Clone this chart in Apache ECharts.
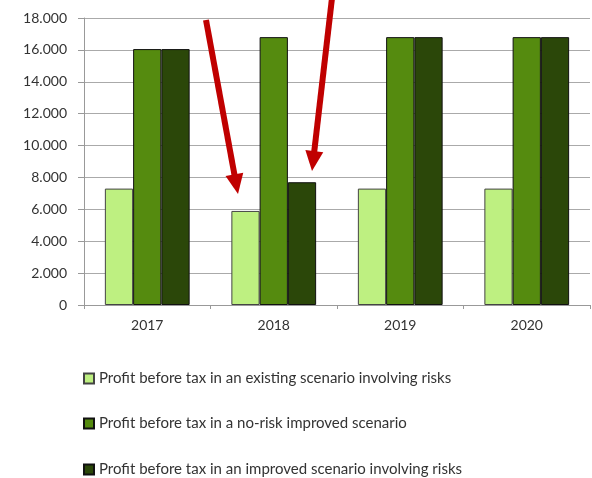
<!DOCTYPE html>
<html><head><meta charset="utf-8">
<script src="https://cdn.jsdelivr.net/npm/echarts@6/dist/echarts.min.js"></script>
<style>html,body{margin:0;padding:0;background:#fff}#c{width:592px;height:478px}</style>
</head><body><div id="c"></div>
<script>
var categories = ['2017', '2018', '2019', '2020'];
var existingRisk = [7300, 5900, 7300, 7300];
var noRiskImproved = [16050, 16800, 16800, 16800];
var improvedRisk = [16050, 7700, 16800, 16800];
var seriesNames = [
  'Profit before tax in an existing scenario involving risks',
  'Profit before tax in a no-risk improved scenario',
  'Profit before tax in an improved scenario involving risks'
];
var yMin = 0, yMax = 18000, yStep = 2000;

var colors = ['#BEF081', '#558B0F', '#2B4709'];
var chart = echarts.init(document.getElementById('c'));
var font = 'Lato, "Liberation Sans", sans-serif';
function fmt(v){ return v === 0 ? '0' : (v/1000) + '.000'; }
function bar(name, data, color, border){
  return {name: name, type: 'bar', data: data, barGap: '0%', barCategoryGap: '33%',
    itemStyle: {color: color, borderColor: border, borderWidth: 1}};
}
function arrow(x1, y1, x2, y2){
  var dx = x2 - x1, dy = y2 - y1, L = Math.sqrt(dx*dx + dy*dy);
  var ux = dx / L, uy = dy / L, hl = 20, hw = 9;
  var bx = x2 - ux*hl, by = y2 - uy*hl;
  return [
    {type: 'line', shape: {x1: x1, y1: y1, x2: bx + ux*2, y2: by + uy*2}, style: {stroke: '#C00000', lineWidth: 6}, z: 100},
    {type: 'polygon', shape: {points: [[x2, y2], [bx - uy*hw, by + ux*hw], [bx + uy*hw, by - ux*hw]]}, style: {fill: '#C00000'}, z: 100}
  ];
}
var legendTops = [365, 410, 456];
var legends = seriesNames.map(function(n, i){
  return {orient: 'vertical', left: 78, top: legendTops[i], itemWidth: 10, itemHeight: 10,
    icon: 'rect', itemGap: 0,
    textStyle: {color: '#333', fontSize: 15, fontFamily: font, lineHeight: 17},
    data: [n]};
});
chart.setOption({
  animation: false,
  color: colors,
  grid: {left: 84, right: 2, top: 18, height: 287},
  xAxis: {type: 'category', data: categories,
    axisLine: {lineStyle: {color: '#999', width: 1}},
    axisTick: {show: true, length: 4, lineStyle: {color: '#999'}},
    axisLabel: {color: '#333', fontSize: 14, fontFamily: font, margin: 13}},
  yAxis: {type: 'value', min: yMin, max: yMax, interval: yStep,
    axisLine: {show: true, lineStyle: {color: '#999', width: 1}},
    axisTick: {show: true, length: 6, lineStyle: {color: '#999'}},
    splitLine: {lineStyle: {color: '#aaa', width: 1}},
    axisLabel: {color: '#333', fontSize: 14, fontFamily: font, margin: 17, formatter: fmt}},
  legend: legends,
  series: [
    bar(seriesNames[0], existingRisk, colors[0], '#444'),
    bar(seriesNames[1], noRiskImproved, colors[1], '#111'),
    bar(seriesNames[2], improvedRisk, colors[2], '#111')
  ],
  graphic: arrow(206, 20, 238, 194).concat(arrow(332, -2, 312, 171))
});
</script></body></html>
